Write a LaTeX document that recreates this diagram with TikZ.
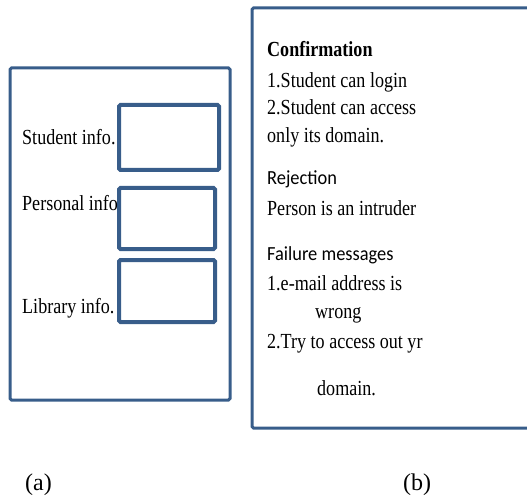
\documentclass[tikz,border=0pt]{standalone}
\usepackage{fontspec}
\setmainfont{Liberation Serif}
\newfontfamily\cfont[FakeStretch=0.84]{Liberation Serif}
\newfontfamily\cbfont[FakeStretch=0.84]{Liberation Serif Bold}
\newfontfamily\sfont[FakeStretch=0.92]{Carlito}
\definecolor{bordblue}{RGB}{56,93,138}
\tikzset{
  panel/.style={draw=bordblue, line width=3pt, rounded corners=1.5pt, inner sep=0pt},
  field/.style={draw=bordblue, line width=4pt, rounded corners=1.5pt, inner sep=0pt},
  lbl/.style={anchor=west, inner sep=0pt, font=\cfont\fontsize{21.5}{24}\selectfont, text height=14pt, text depth=4pt},
  slbl/.style={anchor=west, inner sep=0pt, font=\sfont\fontsize{20}{22}\selectfont, text height=14pt, text depth=4pt},
  captext/.style={anchor=west, inner sep=0pt, font=\fontsize{24}{28}\selectfont}
}
\begin{document}
\begin{tikzpicture}[x=1pt,y=-1pt]
\useasboundingbox (0,0) rectangle (527,497);
\clip (0,0) rectangle (527,497);
% (a)
\node[panel, minimum width=220pt, minimum height=332pt] (outerA) at (120,234) {};
\node[field, minimum width=100pt, minimum height=65pt] (box1) at (169,137.5) {};
\node[field, minimum width=96pt, minimum height=61pt] (box2) at (167,218.5) {};
\node[field, minimum width=96pt, minimum height=62pt] (box3) at (167,291) {};
\node[lbl] (l1) at (22,140) {Student info.};
\node[lbl] (l2) at (22,205) {Personal info};
\node[lbl] (l3) at (22,308) {Library info.};
% (b)
\node[panel, minimum width=288pt, minimum height=420pt] (outerB) at (396,218) {};
\node[lbl, font=\cbfont\fontsize{21.5}{24}\selectfont] (t1) at (267,52) {Confirmation};
\node[lbl] (t2) at (267,83) {1.Student can login};
\node[lbl] (t3) at (267,110) {2.Student can access};
\node[lbl] (t4) at (267,138) {only its domain.};
\node[slbl] (t5) at (267,180) {Rejection};
\node[lbl] (t6) at (267,210) {Person is an intruder};
\node[slbl] (t7) at (267,255) {Failure messages};
\node[lbl] (t8) at (267,285) {1.e-mail address is};
\node[lbl] (t9) at (315,313) {wrong};
\node[lbl] (t10) at (267,343) {2.Try to access out yr};
\node[lbl] (t11) at (317,390) {domain.};
% captions
\node[captext] (ca) at (25,485) {(a)};
\node[captext] (cb) at (403,485) {(b)};
\end{tikzpicture}
\end{document}
